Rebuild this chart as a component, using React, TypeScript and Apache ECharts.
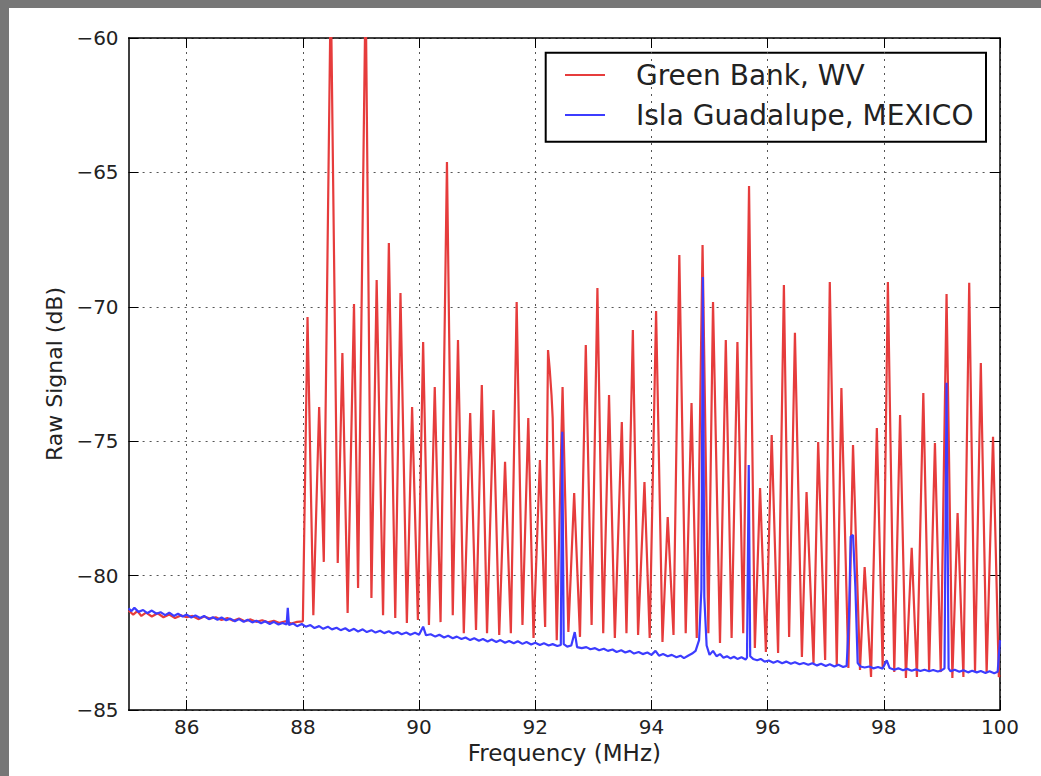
import React, { useEffect, useRef } from "react";
import * as echarts from "echarts";

const xTicks = [86, 88, 90, 92, 94, 96, 98, 100];
const yTicks = [-85, -80, -75, -70, -65, -60];
const seriesNames = ["Green Bank, WV", "Isla Guadalupe, MEXICO"];

const greenBank: [number, number][] = [
  [85.0, -81.3], [85.08, -81.45], [85.15, -81.32], [85.22, -81.5], [85.3, -81.38], [85.4, -81.52],
  [85.5, -81.4], [85.6, -81.55], [85.7, -81.45], [85.8, -81.58], [85.9, -81.48], [86.0, -81.55],
  [86.1, -81.5], [86.2, -81.62], [86.3, -81.52], [86.4, -81.6], [86.5, -81.55], [86.6, -81.65],
  [86.7, -81.58], [86.8, -81.68], [86.9, -81.6], [87.0, -81.7], [87.1, -81.63], [87.2, -81.72],
  [87.3, -81.66], [87.4, -81.74], [87.5, -81.68], [87.6, -81.76], [87.7, -81.7], [87.8, -81.78],
  [87.9, -81.72], [88.0, -81.7],
  [88.08, -70.38], [88.18, -81.47], [88.28, -73.73], [88.36, -79.49], [88.48, -58], [88.6, -79.53],
  [88.68, -71.72], [88.77, -81.39], [88.88, -69.9], [88.95, -80.46], [89.08, -58], [89.18, -80.83],
  [89.27, -69.0], [89.38, -81.47], [89.48, -67.63], [89.59, -81.58], [89.68, -69.49], [89.79, -81.76],
  [89.88, -73.73], [89.98, -81.65], [90.07, -71.31], [90.17, -81.84], [90.27, -72.98], [90.37, -81.73],
  [90.48, -64.61], [90.58, -81.47], [90.67, -71.24], [90.77, -82.14], [90.88, -73.95], [90.98, -82.02],
  [91.08, -72.91], [91.17, -82.14], [91.28, -73.84], [91.38, -82.21], [91.48, -75.77], [91.58, -82.14],
  [91.68, -69.82], [91.78, -81.84], [91.88, -74.14], [91.97, -82.32], [92.08, -75.7], [92.17, -81.91],
  [92.22, -71.61], [92.25, -72.35], [92.28, -73.28], [92.3, -74.14], [92.37, -82.4], [92.47, -72.98],
  [92.57, -82.1], [92.67, -76.93], [92.77, -82.28], [92.87, -71.42], [92.97, -81.84], [93.07, -69.3],
  [93.17, -82.14], [93.27, -73.28], [93.37, -82.32], [93.49, -74.29], [93.57, -82.14], [93.68, -70.86],
  [93.77, -82.21], [93.88, -76.52], [93.97, -82.32], [94.08, -70.16], [94.19, -82.47], [94.28, -77.82],
  [94.38, -82.21], [94.48, -68.07], [94.59, -82.14], [94.69, -73.58], [94.78, -82.32], [94.88, -67.7],
  [94.98, -82.14], [95.06, -69.82], [95.18, -82.51], [95.28, -71.24], [95.38, -82.32], [95.48, -71.31],
  [95.58, -82.14], [95.68, -65.51], [95.78, -82.69], [95.87, -76.74], [95.97, -82.84], [96.07, -74.77],
  [96.18, -82.88], [96.28, -69.19], [96.37, -82.28], [96.47, -70.97], [96.59, -83.03], [96.67, -76.89],
  [96.79, -83.25], [96.87, -75.03], [96.99, -83.14], [97.07, -69.08], [97.19, -83.33], [97.27, -73.02],
  [97.39, -83.44], [97.47, -75.14], [97.59, -83.51], [97.67, -79.68], [97.78, -83.77], [97.88, -74.51],
  [97.98, -83.4], [98.07, -69.08], [98.18, -83.59], [98.28, -74.03], [98.38, -83.81], [98.48, -78.97],
  [98.57, -83.77], [98.68, -73.21], [98.78, -83.51], [98.88, -75.07], [98.98, -83.59], [99.08, -69.52],
  [99.18, -83.81], [99.27, -77.67], [99.37, -83.77], [99.47, -69.11], [99.57, -83.59], [99.67, -72.09],
  [99.77, -83.62], [99.88, -74.84], [99.98, -83.77], [100.0, -83.7],
];

const islaGuadalupe: [number, number][] = [
  [85.0, -81.22], [85.05, -81.32], [85.1, -81.2], [85.17, -81.35], [85.25, -81.28], [85.32, -81.4],
  [85.4, -81.3], [85.48, -81.42], [85.55, -81.36], [85.63, -81.47], [85.7, -81.38], [85.78, -81.5],
  [85.85, -81.42], [85.93, -81.52], [86.0, -81.45], [86.08, -81.56], [86.15, -81.48], [86.23, -81.58],
  [86.3, -81.5], [86.38, -81.62], [86.45, -81.55], [86.53, -81.64], [86.6, -81.56], [86.68, -81.66],
  [86.75, -81.6], [86.83, -81.7], [86.9, -81.62], [86.98, -81.72], [87.05, -81.64], [87.13, -81.74],
  [87.2, -81.68], [87.28, -81.77], [87.35, -81.7], [87.43, -81.8], [87.5, -81.72], [87.58, -81.82],
  [87.65, -81.76], [87.72, -81.82], [87.74, -81.2], [87.76, -81.84], [87.83, -81.78], [87.9, -81.88],
  [87.98, -81.8], [88.05, -81.9], [88.13, -81.84], [88.2, -81.95], [88.28, -81.88], [88.35, -81.98],
  [88.43, -81.9], [88.5, -82.0], [88.58, -81.94], [88.65, -82.03], [88.73, -81.96], [88.8, -82.06],
  [88.88, -81.98], [88.95, -82.08], [89.03, -82.0], [89.1, -82.1], [89.18, -82.03], [89.25, -82.12],
  [89.33, -82.05], [89.4, -82.14], [89.48, -82.07], [89.55, -82.16], [89.63, -82.1], [89.7, -82.18],
  [89.78, -82.12], [89.85, -82.2], [89.93, -82.13], [90.0, -82.2], [90.07, -81.9], [90.12, -82.22],
  [90.2, -82.18], [90.28, -82.27], [90.35, -82.2], [90.43, -82.3], [90.5, -82.24], [90.58, -82.33],
  [90.65, -82.27], [90.73, -82.36], [90.8, -82.3], [90.88, -82.4], [90.95, -82.33], [91.03, -82.42],
  [91.1, -82.36], [91.18, -82.45], [91.25, -82.38], [91.33, -82.47], [91.4, -82.4], [91.48, -82.5],
  [91.55, -82.43], [91.63, -82.52], [91.7, -82.44], [91.78, -82.54], [91.85, -82.47], [91.93, -82.56],
  [92.0, -82.5], [92.08, -82.58], [92.15, -82.52], [92.23, -82.6], [92.3, -82.55], [92.38, -82.62],
  [92.44, -82.58], [92.465, -74.65], [92.49, -82.55], [92.55, -82.64], [92.62, -82.6], [92.68, -82.1],
  [92.72, -82.66], [92.8, -82.7], [92.88, -82.66], [92.95, -82.74], [93.03, -82.7], [93.1, -82.78],
  [93.18, -82.72], [93.25, -82.8], [93.33, -82.75], [93.4, -82.84], [93.48, -82.78], [93.55, -82.86],
  [93.63, -82.8], [93.7, -82.9], [93.78, -82.84], [93.85, -82.92], [93.93, -82.86], [94.0, -82.95],
  [94.07, -82.8], [94.13, -82.98], [94.2, -82.92], [94.28, -83.0], [94.35, -82.95], [94.43, -83.04],
  [94.5, -82.98], [94.56, -83.07], [94.63, -82.98], [94.7, -82.9], [94.76, -82.8], [94.82, -82.4],
  [94.86, -80.5], [94.885, -68.89], [94.91, -80.8], [94.95, -82.6], [95.0, -82.95], [95.06, -82.8],
  [95.12, -83.0], [95.18, -82.92], [95.24, -83.06], [95.3, -83.0], [95.36, -83.08], [95.42, -83.02],
  [95.48, -83.1], [95.55, -83.04], [95.62, -83.12], [95.645, -83.05], [95.675, -75.89], [95.7, -83.0],
  [95.75, -83.1], [95.82, -83.15], [95.88, -83.1], [95.95, -83.2], [96.02, -83.16], [96.1, -83.24],
  [96.17, -83.18], [96.25, -83.26], [96.32, -83.2], [96.4, -83.28], [96.47, -83.22], [96.55, -83.3],
  [96.62, -83.25], [96.7, -83.32], [96.77, -83.26], [96.85, -83.34], [96.92, -83.28], [97.0, -83.36],
  [97.07, -83.3], [97.15, -83.38], [97.22, -83.32], [97.3, -83.4], [97.36, -83.36], [97.4, -81.6],
  [97.43, -78.55], [97.47, -78.49], [97.51, -80.4], [97.55, -83.25], [97.6, -83.38], [97.67, -83.42],
  [97.75, -83.38], [97.82, -83.45], [97.9, -83.4], [97.98, -83.46], [98.05, -83.15], [98.1, -83.44],
  [98.18, -83.5], [98.25, -83.45], [98.33, -83.52], [98.4, -83.47], [98.48, -83.54], [98.55, -83.49],
  [98.63, -83.55], [98.7, -83.5], [98.78, -83.56], [98.85, -83.51], [98.93, -83.57], [99.0, -83.52],
  [99.045, -83.45], [99.08, -72.83], [99.115, -83.45], [99.15, -83.56], [99.22, -83.5], [99.3, -83.58],
  [99.37, -83.52], [99.45, -83.6], [99.52, -83.54], [99.6, -83.6], [99.67, -83.55], [99.75, -83.62],
  [99.82, -83.56], [99.9, -83.63], [99.96, -83.58], [100.0, -82.4],
];

const RED = "#e63c3c";
const BLUE = "#3c3cff";
const FONT = "DejaVu Sans";

export default function App() {
  const ref = useRef<HTMLDivElement>(null);

  useEffect(() => {
    if (!ref.current) return;
    const chart = echarts.init(ref.current, null, { renderer: "svg" });
    const minus = (v: number) => String(v).replace("-", "\u2212");
    const frameLine = { show: true, onZero: false, lineStyle: { color: "#000", width: 1.5 } };
    const tickStyle = { color: "#000", width: 1 };
    const gridLine = { show: true, lineStyle: { color: "#555", type: [2, 5], width: 1 } };

    chart.setOption({
      animation: false,
      backgroundColor: "#ffffff",
      grid: { left: 119.6, top: 30, right: 41, bottom: 66, containLabel: false },
      xAxis: [
        {
          type: "value",
          min: 85,
          max: 100,
          position: "bottom",
          axisLine: frameLine,
          axisTick: { show: true, inside: true, length: 10, customValues: xTicks, lineStyle: tickStyle },
          axisLabel: { customValues: xTicks, color: "#222", fontSize: 20, fontFamily: FONT, margin: 7 },
          splitLine: gridLine,
          name: "Frequency (MHz)",
          nameLocation: "middle",
          nameGap: 27,
          nameTextStyle: { color: "#222", fontSize: 23, fontFamily: FONT },
        },
        {
          type: "value",
          min: 85,
          max: 100,
          position: "top",
          axisLine: frameLine,
          axisTick: { show: true, inside: true, length: 10, customValues: xTicks, lineStyle: tickStyle },
          axisLabel: { show: false },
          splitLine: { show: false },
        },
      ],
      yAxis: [
        {
          type: "value",
          min: yTicks[0],
          max: yTicks[yTicks.length - 1],
          interval: 5,
          position: "left",
          axisLine: frameLine,
          axisTick: { show: true, inside: true, length: 10, lineStyle: tickStyle },
          axisLabel: {
            color: "#222",
            fontSize: 20,
            fontFamily: FONT,
            margin: 10,
            formatter: (v: number) => minus(v),
          },
          splitLine: gridLine,
          name: "Raw Signal (dB)",
          nameLocation: "middle",
          nameGap: 63,
          nameTextStyle: { color: "#222", fontSize: 22, fontFamily: FONT },
        },
        {
          type: "value",
          min: yTicks[0],
          max: yTicks[yTicks.length - 1],
          interval: 5,
          position: "right",
          axisLine: frameLine,
          axisTick: { show: true, inside: true, length: 10, lineStyle: tickStyle },
          axisLabel: { show: false },
          splitLine: { show: false },
        },
      ],
      series: [
        {
          name: seriesNames[0],
          type: "line",
          data: greenBank,
          xAxisIndex: 0,
          yAxisIndex: 0,
          showSymbol: false,
          symbol: "none",
          clip: true,
          lineStyle: { color: RED, width: 2.2 },
          itemStyle: { color: RED },
          z: 3,
        },
        {
          name: seriesNames[1],
          type: "line",
          data: islaGuadalupe,
          xAxisIndex: 0,
          yAxisIndex: 0,
          showSymbol: false,
          symbol: "none",
          clip: true,
          lineStyle: { color: BLUE, width: 2.2 },
          itemStyle: { color: BLUE },
          z: 4,
        },
      ],
      graphic: [
        {
          type: "group",
          z: 100,
          children: [
            {
              type: "rect",
              shape: { x: 536.7, y: 44.7, width: 440.3, height: 89 },
              style: { fill: "#fff", stroke: "#000", lineWidth: 2 },
            },
            {
              type: "line",
              shape: { x1: 556, y1: 67, x2: 596, y2: 67 },
              style: { stroke: RED, lineWidth: 2 },
            },
            {
              type: "line",
              shape: { x1: 556, y1: 107, x2: 596, y2: 107 },
              style: { stroke: BLUE, lineWidth: 2 },
            },
            {
              type: "text",
              x: 627,
              y: 67,
              style: {
                text: seriesNames[0],
                fill: "#222",
                fontSize: 28,
                fontFamily: FONT,
                verticalAlign: "middle",
                align: "left",
              },
            },
            {
              type: "text",
              x: 627,
              y: 107,
              style: {
                text: seriesNames[1],
                fill: "#222",
                fontSize: 28,
                fontFamily: FONT,
                verticalAlign: "middle",
                align: "left",
              },
            },
          ],
        },
      ],
    });

    return () => {
      chart.dispose();
    };
  }, []);

  return (
    <div style={{ position: "fixed", left: 0, top: 0, width: 1041, height: 776, background: "#777777" }}>
      <div
        ref={ref}
        style={{ position: "absolute", left: 9, top: 8, width: 1032, height: 768, background: "#ffffff" }}
      />
    </div>
  );
}
